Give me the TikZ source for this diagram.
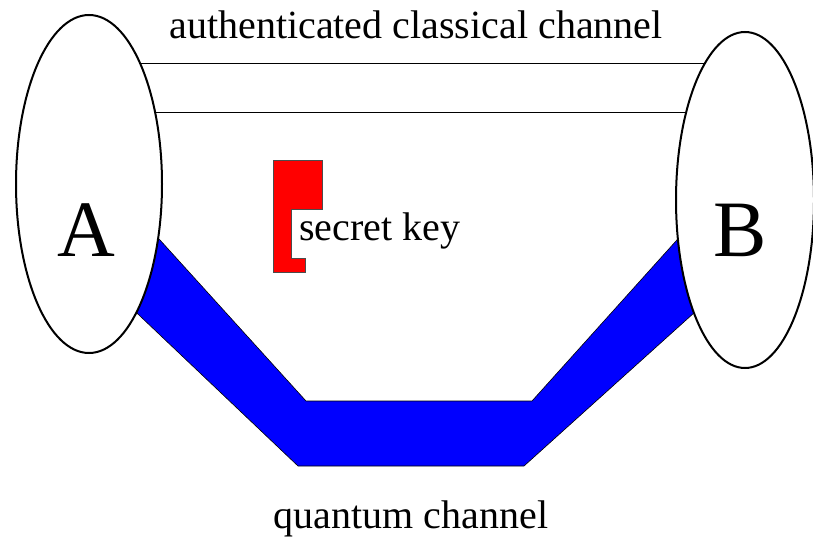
\documentclass[tikz,border=0pt]{standalone}
\usepackage{fontspec}
\setmainfont{Liberation Serif}
\usetikzlibrary{shapes.geometric}
\definecolor{qblue}{RGB}{0,0,255}
\definecolor{keyred}{RGB}{255,0,0}
\tikzset{party/.style={ellipse,draw=black,fill=white,line width=2pt,inner sep=0pt},
 classical/.style={draw=black,line width=1pt},
 qchannel/.style={fill=qblue,draw=black,line width=.6pt},
 keyshape/.style={fill=keyred,draw=black!70,line width=.6pt},
 caption/.style={font=\fontsize{40}{48}\selectfont,inner sep=0pt},
 partyname/.style={font=\fontsize{80}{96}\selectfont,inner sep=0pt,anchor=base},
 every picture/.style={line join=miter,line cap=butt}}

\begin{document}
\begin{tikzpicture}[x=1pt,y=-1pt]
\useasboundingbox (0,0) rectangle (813,538);
\coordinate (ca) at (89,184);
\coordinate (cb) at (745,200);
\draw[classical] (ca |- 0,63) -- (cb |- 0,63);
\draw[classical] (ca |- 0,112) -- (cb |- 0,112);
\draw[qchannel] (140,218) -- (306,401) -- (532,401) -- (694,221) -- (715,294)
 -- (524,466) -- (298,466) -- (120,297) -- cycle;
\draw[keyshape] (273,160) -- (322,160) -- (322,209) -- (291,209) -- (291,258)
 -- (305,258) -- (305,272) -- (273,272) -- cycle;
\node[party,minimum width=146pt,minimum height=338pt] (alice) at (ca) {};
\node[party,minimum width=138pt,minimum height=336pt] (bob) at (cb) {};
\node[partyname] (nameA) at (86,256) {A};
\node[partyname] (nameB) at (740,256) {B};
\node[caption,anchor=base] (classlabel) at (416,38) {authenticated classical channel};
\node[caption,anchor=base west] (keylabel) at (299,240) {secret key};
\node[caption,anchor=base] (quantlabel) at (411,528) {quantum channel};
\end{tikzpicture}
\end{document}
